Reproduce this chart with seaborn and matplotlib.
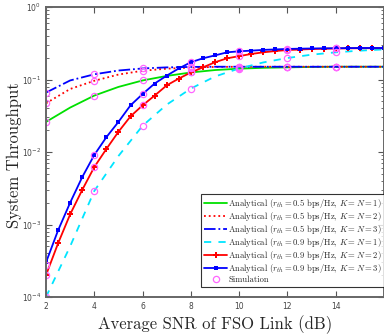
import numpy as np
import pandas as pd
import matplotlib
matplotlib.use("Agg")
import matplotlib.pyplot as plt
import seaborn as sns

# data
snr_int = [2, 3, 4, 5, 6, 7, 8, 9, 10, 11, 12, 13, 14, 15, 16]
snr_half = [2, 2.5, 3, 3.5, 4, 4.5, 5, 5.5, 6, 6.5, 7, 7.5, 8, 8.5, 9, 9.5,
            10, 10.5, 11, 11.5, 12, 12.5, 13, 13.5, 14, 14.5, 15, 15.5, 16]

thr_05_k1 = [0.026, 0.041, 0.060, 0.079, 0.097, 0.112, 0.125, 0.135, 0.141,
             0.145, 0.147, 0.149, 0.150, 0.150, 0.150]
thr_05_k2 = [0.047, 0.074, 0.096, 0.117, 0.132, 0.141, 0.146, 0.149, 0.150,
             0.150, 0.150, 0.150, 0.150, 0.150, 0.150]
thr_05_k3 = [0.066, 0.097, 0.118, 0.133, 0.142, 0.147, 0.149, 0.150, 0.150,
             0.150, 0.150, 0.150, 0.150, 0.150, 0.150]
thr_09_k1 = [1.0e-4, 5.0e-4, 0.0029, 0.0088, 0.023, 0.045, 0.075, 0.11, 0.142,
             0.172, 0.198, 0.220, 0.237, 0.250, 0.260]
thr_09_k2 = [2.0e-4, 5.5e-4, 1.38e-3, 3.0e-3, 6.2e-3, 0.011, 0.019, 0.031, 0.044,
             0.060, 0.083, 0.103, 0.125, 0.147, 0.173, 0.196, 0.210, 0.225,
             0.237, 0.247, 0.255, 0.259, 0.263, 0.266, 0.268, 0.269, 0.270,
             0.270, 0.270]
thr_09_k3 = [3.0e-4, 8.3e-4, 2.0e-3, 4.5e-3, 9.1e-3, 0.016, 0.026, 0.044, 0.063,
             0.088, 0.113, 0.142, 0.173, 0.196, 0.215, 0.237, 0.245, 0.250,
             0.256, 0.260, 0.264, 0.266, 0.268, 0.269, 0.270, 0.271, 0.272,
             0.272, 0.272]

sim_snr = [2, 4, 6, 8, 10, 12, 14]
sim_05_k1 = [0.026, 0.060, 0.097, 0.125, 0.141, 0.147, 0.150]
sim_05_k2 = [0.047, 0.096, 0.132, 0.146, 0.150, 0.150, 0.150]
sim_05_k3 = [0.066, 0.118, 0.142, 0.149, 0.150, 0.150, 0.150]
sim_09_k1 = [1.0e-4, 0.0029, 0.023, 0.075, 0.142, 0.198, 0.237]
sim_09_k2 = [2.0e-4, 6.2e-3, 0.044, 0.125, 0.210, 0.255, 0.268]
sim_09_k3 = [2.8e-4, 9.1e-3, 0.063, 0.173, 0.245, 0.264, 0.270]

sns.set_style("ticks")
plt.rcParams["mathtext.fontset"] = "cm"

fig = plt.figure(figsize=(3.84, 3.36), dpi=100)
ax = fig.add_axes([46 / 384, 1 - 297 / 336, 338 / 384, 290 / 336])

lab = r"Analytical ($r_{th}=%s$ bps/Hz, $K=N=%d$)"
sns.lineplot(x=snr_int, y=thr_05_k1, ax=ax, color="#00e000", lw=1.3,
             label=lab % ("0.5", 1))
sns.lineplot(x=snr_int, y=thr_05_k2, ax=ax, color="#ff0000", lw=1.3,
             linestyle=":", label=lab % ("0.5", 2))
sns.lineplot(x=snr_int, y=thr_05_k3, ax=ax, color="#0000ff", lw=1.3,
             linestyle="-.", label=lab % ("0.5", 3))
sns.lineplot(x=snr_int, y=thr_09_k1, ax=ax, color="#00e5ff", lw=1.3,
             linestyle=(0, (4, 4)), label=lab % ("0.9", 1))
sns.lineplot(x=snr_half, y=thr_09_k2, ax=ax, color="#ff0000", lw=1.3,
             marker="P", markersize=4, markeredgewidth=0, label=lab % ("0.9", 2))
sns.lineplot(x=snr_half, y=thr_09_k3, ax=ax, color="#0000ff", lw=1.3,
             marker="s", markersize=3, markeredgewidth=0, label=lab % ("0.9", 3))

sim_style = dict(linestyle="", marker="o", markersize=4.5, markerfacecolor="none",
                 markeredgecolor="#ff66ff", markeredgewidth=0.9, color="#ff66ff")
first = True
for vals in [sim_05_k1, sim_05_k2, sim_05_k3, sim_09_k1, sim_09_k2, sim_09_k3]:
    ax.plot(sim_snr, vals, label="Simulation" if first else None, **sim_style)
    first = False

ax.set_yscale("log")
ax.set_xlim(2, 16)
ax.set_ylim(1e-4, 1)
ax.set_xticks([2, 4, 6, 8, 10, 12, 14])

ax.tick_params(which="both", direction="in", top=True, right=True,
               colors="#555555", labelsize=5.5, labelcolor="#444444")
ax.tick_params(which="major", length=4)
ax.tick_params(which="minor", length=2)
for sp in ax.spines.values():
    sp.set_color("#666666")
    sp.set_linewidth(1.4)

ax.set_xlabel("Average SNR of FSO Link (dB)", family="cmr10", fontsize=12,
              labelpad=3)
ax.set_ylabel("System Throughput", family="cmr10", fontsize=12)
ax.yaxis.set_label_coords(-0.07, 0.49)

leg = ax.legend(loc="lower right", bbox_to_anchor=(1.003, 0.036),
                frameon=True, fancybox=False, edgecolor="black",
                handlelength=2.6, handletextpad=0.2, labelspacing=0.0,
                borderpad=0.35, borderaxespad=0.0,
                prop={"family": "cmr10", "size": 6.2})
leg.get_frame().set_linewidth(0.8)

fig.savefig("out.png", dpi=100)
